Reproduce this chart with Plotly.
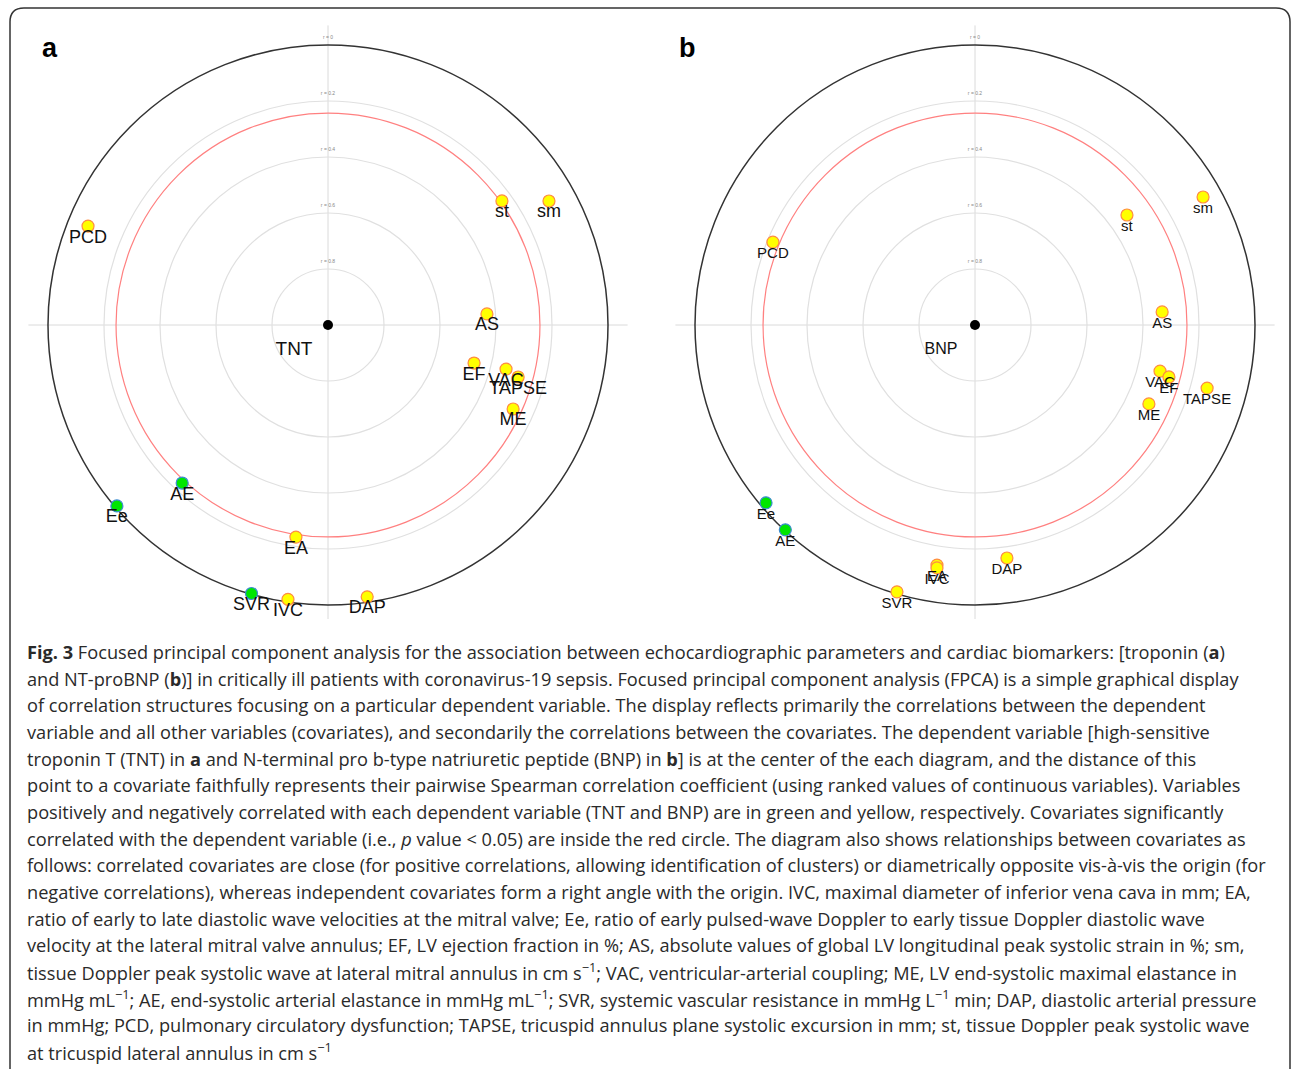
import numpy as np
import plotly.graph_objects as go

W, H = 1293, 1069

# ---------------- data (signed Spearman correlation, angle in degrees) ----------------
a_names = ["PCD", "st", "sm", "AS", "EF", "VAC", "TAPSE", "ME", "AE", "Ee", "EA", "SVR", "IVC", "DAP"]
a_corr = [-0.073, -0.237, -0.095, -0.431, -0.461, -0.345, -0.296, -0.274, 0.232, 0.007, -0.234, 0.003, -0.010, -0.019]
a_angle = [157.6, 35.5, 29.3, 4.0, -14.6, -13.9, -15.3, -24.4, -132.7, -139.4, -98.6, -105.9, -98.3, -81.8]

b_names = ["PCD", "st", "sm", "AS", "VAC", "EF", "ME", "TAPSE", "Ee", "AE", "EA", "IVC", "SVR", "DAP"]
b_corr = [-0.220, -0.330, -0.066, -0.330, -0.319, -0.283, -0.318, -0.141, 0.020, 0.003, -0.132, -0.122, -0.007, -0.160]
b_angle = [157.7, 35.9, 29.3, 4.0, -14.0, -15.0, -24.4, -15.2, -139.6, -132.8, -99.0, -98.9, -106.3, -82.2]

dependents = ["TNT", "BNP"]
panel_letters = ["a", "b"]
grid_levels = [0.0, 0.2, 0.4, 0.6, 0.8]
grid_labels = ["r = 0", "r = 0.2", "r = 0.4", "r = 0.6", "r = 0.8"]
sig_level = 0.243

caption_lines = [
    "<b>Fig. 3</b> Focused principal component analysis for the association between echocardiographic parameters and cardiac biomarkers: [troponin (<b>a</b>)",
    "and NT-proBNP (<b>b</b>)] in critically ill patients with coronavirus-19 sepsis. Focused principal component analysis (FPCA) is a simple graphical display",
    "of correlation structures focusing on a particular dependent variable. The display reflects primarily the correlations between the dependent",
    "variable and all other variables (covariates), and secondarily the correlations between the covariates. The dependent variable [high-sensitive",
    "troponin T (TNT) in <b>a</b> and N-terminal pro b-type natriuretic peptide (BNP) in <b>b</b>] is at the center of the each diagram, and the distance of this",
    "point to a covariate faithfully represents their pairwise Spearman correlation coefficient (using ranked values of continuous variables). Variables",
    "positively and negatively correlated with each dependent variable (TNT and BNP) are in green and yellow, respectively. Covariates significantly",
    "correlated with the dependent variable (i.e., <i>p</i> value &lt; 0.05) are inside the red circle. The diagram also shows relationships between covariates as",
    "follows: correlated covariates are close (for positive correlations, allowing identification of clusters) or diametrically opposite vis-à-vis the origin (for",
    "negative correlations), whereas independent covariates form a right angle with the origin. IVC, maximal diameter of inferior vena cava in mm; EA,",
    "ratio of early to late diastolic wave velocities at the mitral valve; Ee, ratio of early pulsed-wave Doppler to early tissue Doppler diastolic wave",
    "velocity at the lateral mitral valve annulus; EF, LV ejection fraction in %; AS, absolute values of global LV longitudinal peak systolic strain in %; sm,",
    "tissue Doppler peak systolic wave at lateral mitral annulus in cm s<sup>−1</sup>; VAC, ventricular-arterial coupling; ME, LV end-systolic maximal elastance in",
    "mmHg mL<sup>−1</sup>; AE, end-systolic arterial elastance in mmHg mL<sup>−1</sup>; SVR, systemic vascular resistance in mmHg L<sup>−1</sup> min; DAP, diastolic arterial pressure",
    "in mmHg; PCD, pulmonary circulatory dysfunction; TAPSE, tricuspid annulus plane systolic excursion in mm; st, tissue Doppler peak systolic wave",
    "at tricuspid lateral annulus in cm s<sup>−1</sup>",
]

# ---------------- layout constants ----------------
S = 280.0           # px per unit
R = 1.1             # axis half-range
centers = [(328, 325), (975, 325)]
letter_x = [50, 687]
label_size = [18, 15]
dep_size = [19, 16]
lab_off = 12.0 / S

fig = go.Figure()
shapes = []
annotations = []

panels = [(a_names, a_corr, a_angle), (b_names, b_corr, b_angle)]
for k, (names, corr, ang) in enumerate(panels):
    cx, cy = centers[k]
    xa = "x" if k == 0 else "x2"
    ya = "y" if k == 0 else "y2"
    corr = np.array(corr)
    th = np.radians(np.array(ang))
    rr = 1 - np.abs(corr)
    xs = rr * np.cos(th)
    ys = rr * np.sin(th)

    # axes lines
    shapes.append(dict(type="line", xref=xa, yref=ya, x0=-1.07, x1=1.07, y0=0, y1=0,
                       line=dict(color="#DADADA", width=1), layer="below"))
    shapes.append(dict(type="line", xref=xa, yref=ya, x0=0, x1=0, y0=-1.05, y1=1.07,
                       line=dict(color="#DADADA", width=1), layer="below"))
    # grid circles
    for lv in grid_levels:
        r = 1 - lv
        if lv == 0:
            col, wd = "#333333", 1.5
        else:
            col, wd = "#E0E0E0", 1.2
        shapes.append(dict(type="circle", xref=xa, yref=ya, x0=-r, x1=r, y0=-r, y1=r,
                           line=dict(color=col, width=wd), layer="below"))
    rs = 1 - sig_level
    shapes.append(dict(type="circle", xref=xa, yref=ya, x0=-rs, x1=rs, y0=-rs, y1=rs,
                       line=dict(color="#FF8080", width=1.2), layer="below"))

    # tiny grid labels
    fig.add_trace(go.Scatter(
        x=[0.0] * len(grid_levels), y=[1 - lv + 7 / S for lv in grid_levels],
        mode="text", text=grid_labels, textfont=dict(size=5, color="#888888", family="Liberation Sans"),
        xaxis=xa, yaxis=ya, showlegend=False, hoverinfo="skip"))

    # points
    pos = corr > 0
    fill = np.where(pos, "#00E600", "#FFFF00")
    edge = np.where(pos, "#3C8CD0", "#FF8C42")
    fig.add_trace(go.Scatter(
        x=xs, y=ys, mode="markers",
        marker=dict(size=12, color=list(fill), line=dict(color=list(edge), width=1.2)),
        xaxis=xa, yaxis=ya, showlegend=False, text=names, hoverinfo="text"))
    fig.add_trace(go.Scatter(
        x=xs, y=ys - lab_off, mode="text", text=names,
        textfont=dict(size=label_size[k], color="#111111", family="Liberation Sans"),
        xaxis=xa, yaxis=ya, showlegend=False, hoverinfo="skip"))

    # dependent variable at center
    fig.add_trace(go.Scatter(
        x=[0], y=[0], mode="markers", marker=dict(size=10, color="black"),
        xaxis=xa, yaxis=ya, showlegend=False, hoverinfo="skip"))
    fig.add_trace(go.Scatter(
        x=[-34 / S], y=[-25 / S], mode="text", text=[dependents[k]],
        textfont=dict(size=dep_size[k], color="#111111", family="Liberation Sans"),
        xaxis=xa, yaxis=ya, showlegend=False, hoverinfo="skip"))

    # panel letter
    annotations.append(dict(xref="paper", yref="paper", x=letter_x[k] / W, y=1 - 48 / H,
                            text="<b>%s</b>" % panel_letters[k], showarrow=False,
                            font=dict(size=27, color="black", family="Liberation Sans"),
                            xanchor="center", yanchor="middle"))

# caption lines
for i, line in enumerate(caption_lines):
    yc = 652 + i * 26.65
    annotations.append(dict(xref="paper", yref="paper", x=25 / W, y=1 - yc / H,
                            text=line, showarrow=False, xanchor="left", yanchor="middle",
                            font=dict(size=18.2, color="#2a2a2a", family="Open Sans")))

# frame
def X(p):
    return p / W


def Y(p):
    return 1 - p / H


path = ("M %f,%f L %f,%f Q %f,%f %f,%f L %f,%f Q %f,%f %f,%f L %f,%f" % (
    X(10), Y(1080), X(10), Y(22), X(10), Y(8), X(24), Y(8), X(1276), Y(8),
    X(1290), Y(8), X(1290), Y(22), X(1290), Y(1080)))
shapes.append(dict(type="path", xref="paper", yref="paper", path=path,
                   line=dict(color="#333333", width=1.5)))

ax = dict(visible=False, range=[-R, R], fixedrange=True)
c0, c1 = centers
half = R * S
fig.update_layout(
    width=W, height=H, margin=dict(l=0, r=0, t=0, b=0),
    paper_bgcolor="white", plot_bgcolor="rgba(0,0,0,0)",
    xaxis=dict(ax, domain=[(c0[0] - half) / W, (c0[0] + half) / W]),
    yaxis=dict(ax, domain=[1 - (c0[1] + half) / H, 1 - (c0[1] - half) / H]),
    xaxis2=dict(ax, domain=[(c1[0] - half) / W, (c1[0] + half) / W]),
    yaxis2=dict(ax, domain=[1 - (c1[1] + half) / H, 1 - (c1[1] - half) / H]),
    shapes=shapes, annotations=annotations, showlegend=False,
)

fig.write_html("out.html", config={"displayModeBar": False},
               post_script="document.body.style.margin='0';document.body.style.overflow='hidden';")
